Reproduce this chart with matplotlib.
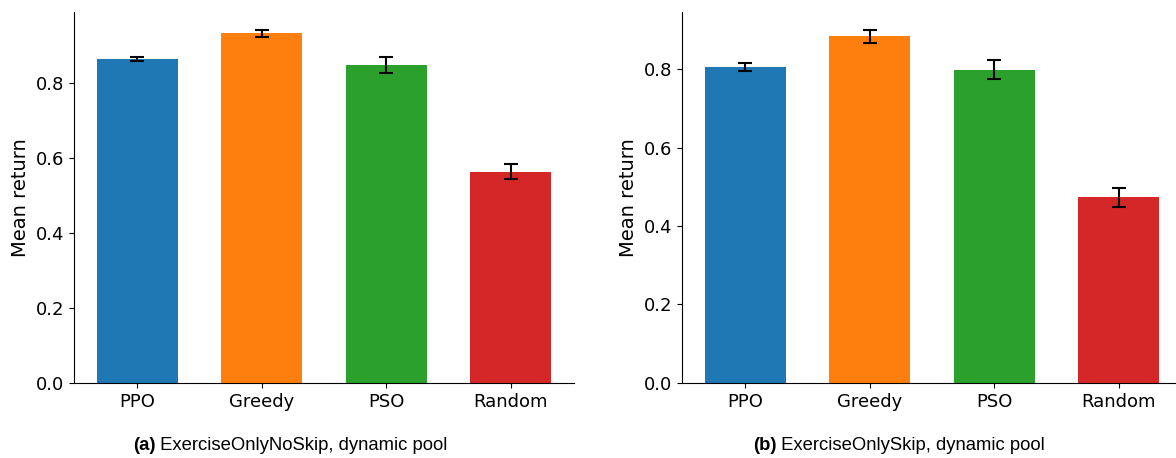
import numpy as np
import matplotlib.pyplot as plt

methods = ['PPO', 'Greedy', 'PSO', 'Random']
colors = ['#1f77b4', '#ff7f0e', '#2ca02c', '#d62728']

# (a) ExerciseOnlyNoSkip, dynamic pool
noskip_mean = [0.864, 0.933, 0.849, 0.563]
noskip_err = [0.006, 0.010, 0.021, 0.020]

# (b) ExerciseOnlySkip, dynamic pool
skip_mean = [0.805, 0.884, 0.799, 0.473]
skip_err = [0.010, 0.017, 0.024, 0.024]

fig = plt.figure(figsize=(11.76, 4.58), dpi=100)
ax1 = fig.add_axes([0.063, 0.164, 0.425, 0.81])
ax2 = fig.add_axes([0.580, 0.164, 0.425, 0.81])

for ax, mean, err in [(ax1, noskip_mean, noskip_err), (ax2, skip_mean, skip_err)]:
    x = np.arange(len(methods))
    ax.bar(x, mean, width=0.65, color=colors, yerr=err, capsize=5,
           error_kw={'elinewidth': 1.5, 'capthick': 1.5, 'ecolor': 'black'})
    ax.set_xticks(x)
    ax.set_xticklabels(methods, fontsize=13)
    ax.tick_params(axis='y', labelsize=13)
    ax.set_ylabel('Mean return', fontsize=14)
    ax.spines['top'].set_visible(False)
    ax.spines['right'].set_visible(False)

# captions below each panel
caps = [('(a)', ' ExerciseOnlyNoSkip, dynamic pool', 0.113),
        ('(b)', ' ExerciseOnlySkip, dynamic pool', 0.640)]
for tag, rest, xpos in caps:
    t = fig.text(xpos, 0.018, tag, fontsize=13.3, fontweight='bold',
                 family='Liberation Sans', va='baseline')
    fig.canvas.draw()
    plt.annotate(rest, xy=(1, 0), xycoords=t, fontsize=13.3,
                 family='Liberation Sans', va='bottom', ha='left')

fig.savefig('out.png', dpi=100)
